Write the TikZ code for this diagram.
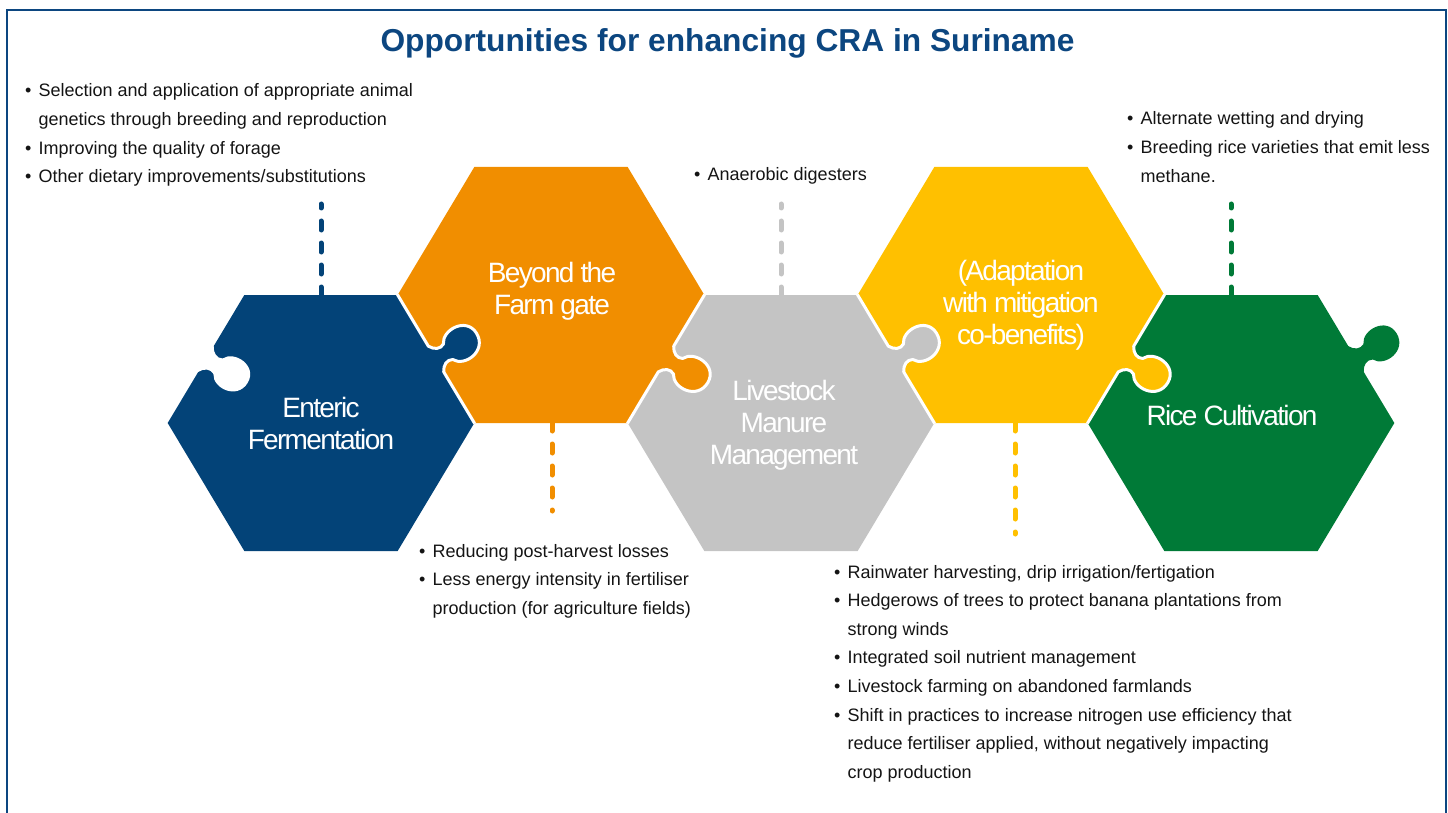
\documentclass[tikz,border=0pt]{standalone}
\usepackage{fontspec}
\setmainfont{Liberation Sans}
\newfontfamily\hexfont[LetterSpace=-6]{Liberation Sans}
\usepackage{array}
\definecolor{titleblue}{RGB}{12,70,128}
\definecolor{cblue}{RGB}{3,67,120}
\definecolor{corange}{RGB}{241,142,0}
\definecolor{cgray}{RGB}{196,196,196}
\definecolor{cyellow}{RGB}{255,192,0}
\definecolor{cgreen}{RGB}{0,122,55}
\definecolor{txt}{RGB}{20,20,20}
\newcommand\hexat[3]{%
  \fill[#3] (#1-153.33,#2) -- (#1-76.67,#2-128) -- (#1+76.67,#2-128) -- (#1+153.33,#2) -- (#1+76.67,#2+128) -- (#1-76.67,#2+128) -- cycle;}
\newcommand\knobfill[3]{%
  \begin{scope}[shift={(#1)},rotate=#2,y=1pt]
  \fill[#3] (-15,-5) -- (-15,0) .. controls (-9,3) and (-6,9) .. (-9,14) .. controls (-22,20) and (-21,48) .. (-1,48) .. controls (19,48) and (22,21) .. (9,14) .. controls (6,9) and (9,3) .. (15,0) -- (15,-5) -- cycle;
  \end{scope}}
\newcommand\seam[2]{%
  \begin{scope}[shift={(#1)},rotate=#2,y=1pt]
  \draw[seamline] (-75,0) -- (-15,0) .. controls (-9,3) and (-6,9) .. (-9,14) .. controls (-22,20) and (-21,48) .. (-1,48) .. controls (19,48) and (22,21) .. (9,14) .. controls (6,9) and (9,3) .. (15,0) -- (75,0);
  \end{scope}}
\newcommand\blist[1]{\begin{tabular}[t]{@{}p{13.5pt}@{}l@{}}#1\end{tabular}}
\begin{document}
\begin{tikzpicture}[x=1pt,y=-1pt,
  seamline/.style={white,line width=3pt,line join=round},
  hexlabel/.style={font=\hexfont\fontsize{28}{32}\selectfont,text=white,align=center,inner sep=0pt},
  bullets/.style={font=\fontsize{18}{28.6}\selectfont,text=txt,anchor=base west,inner sep=0pt},
  dashconn/.style={line width=5pt,line cap=round,dash pattern=on 9pt off 13pt}]
\path[use as bounding box] (0,0) rectangle (1448,813);
% frame
\draw[titleblue,line width=2pt] (7,813) -- (7,10) -- (1446,10) -- (1446,813);
% title
\node[font=\bfseries\fontsize{31.7}{36}\selectfont,text=titleblue,anchor=base,inner sep=0pt] (title) at (727.5,52) {Opportunities for enhancing CRA in Suriname};
% hexagons
\hexat{321}{423}{cblue}
\hexat{551}{295}{corange}
\hexat{781}{423}{cgray}
\hexat{1011}{295}{cyellow}
\hexat{1241}{423}{cgreen}
% knobs
\knobfill{436,359}{-59.07}{cblue}
\knobfill{666,359}{-120.93}{corange}
\knobfill{896,359}{-59.07}{cgray}
\knobfill{1126,359}{-120.93}{cyellow}
\knobfill{1356,359}{-59.07}{cgreen}
\knobfill{206,359}{-120.93}{white}
% seams
\seam{436,359}{-59.07}
\seam{666,359}{-120.93}
\seam{896,359}{-59.07}
\seam{1126,359}{-120.93}
% labels
\node[hexlabel] (la) at (321,423) {Enteric\\Fermentation};
\node[hexlabel] (lb) at (552,291) {Beyond the\\Farm gate};
\node[hexlabel] (lc) at (784,425) {Livestock\\Manure\\Management};
\node[hexlabel] (ld) at (1021,305) {(Adaptation\\with mitigation\\co-benefits)};
\node[hexlabel] (le) at (1232,415) {Rice Cultivation};
% connector coordinates
\coordinate (atop) at (321,296);
\coordinate (aend) at (321,204);
\coordinate (bbot) at (552,422);
\coordinate (bend) at (552,511);
\coordinate (ctop) at (781,296);
\coordinate (cend) at (781,204);
\coordinate (dbot) at (1015,422);
\coordinate (dend) at (1015,534);
\coordinate (etop) at (1231,296);
\coordinate (eend) at (1231,204);
\draw[dashconn,cblue] (atop) -- (aend);
\draw[dashconn,corange] (bbot) -- (bend);
\draw[dashconn,cgray] (ctop) -- (cend);
\draw[dashconn,cyellow] (dbot) -- (dend);
\draw[dashconn,cgreen] (etop) -- (eend);
% bullet lists
\node[bullets] (ta) at (25,97) {\blist{%
 • & Selection and application of appropriate animal\\
   & genetics through breeding and reproduction\\
 • & Improving the quality of forage\\
 • & Other dietary improvements/substitutions}};
\node[bullets] (tc) at (694,181) {\blist{• & Anaerobic digesters}};
\node[bullets] (te) at (1127,125) {\blist{%
 • & Alternate wetting and drying\\
 • & Breeding rice varieties that emit less\\
   & methane.}};
\node[bullets] (tb) at (419,557) {\blist{%
 • & Reducing post-harvest losses\\
 • & Less energy intensity in fertiliser\\
   & production (for agriculture fields)}};
\node[bullets] (td) at (834,578) {\blist{%
 • & Rainwater harvesting, drip irrigation/fertigation\\
 • & Hedgerows of trees to protect banana plantations from\\
   & strong winds\\
 • & Integrated soil nutrient management\\
 • & Livestock farming on abandoned farmlands\\
 • & Shift in practices to increase nitrogen use efficiency that\\
   & reduce fertiliser applied, without negatively impacting\\
   & crop production}};
\end{tikzpicture}
\end{document}
